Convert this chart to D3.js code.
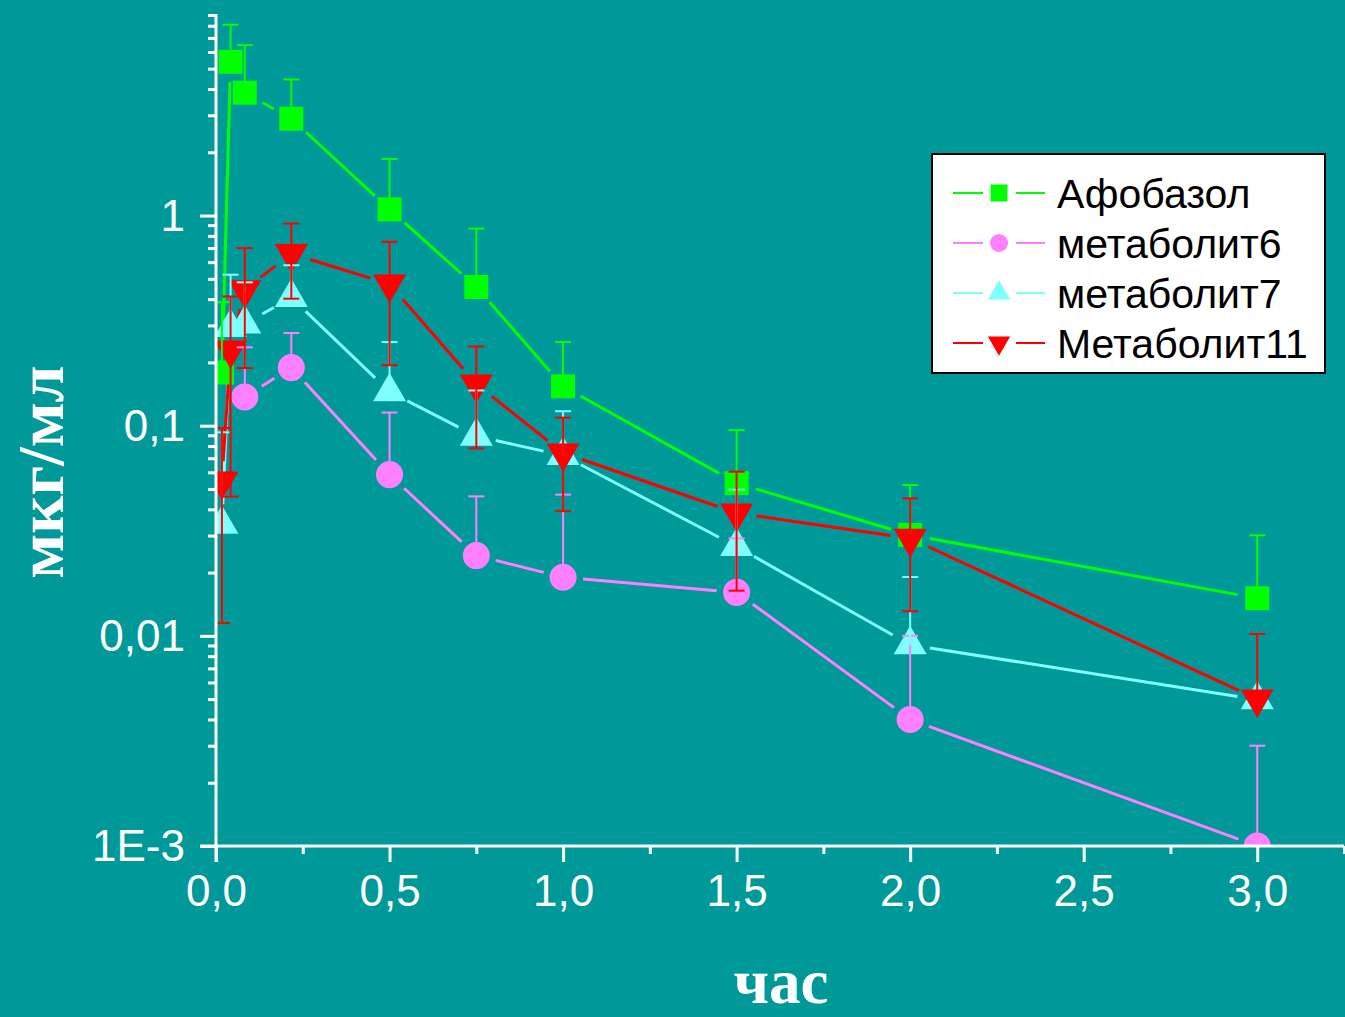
<!DOCTYPE html>
<html>
<head>
<meta charset="utf-8">
<script src="https://cdn.jsdelivr.net/npm/d3@7"></script>
<style>
  html, body { margin: 0; padding: 0; background: #009999; }
  svg { display: block; }
</style>
</head>
<body>
<svg width="1345" height="1017"></svg>
<script>
// time points, hours
const times = [0.017, 0.042, 0.083, 0.217, 0.5, 0.75, 1, 1.5, 2, 3];
const times6 = [0.083, 0.217, 0.5, 0.75, 1, 1.5, 2, 3];

const afobazol    = [0.179, 5.39, 3.84, 2.89, 1.07, 0.457, 0.154, 0.0533, 0.0302, 0.0151];
const afobazolErr = [0.208, 2.7, 2.63, 1.55, 0.79, 0.41, 0.096, 0.042, 0.022, 0.015];
const metab6      = [0.137, 0.189, 0.0585, 0.0241, 0.019, 0.0161, 0.004, 0.001];
const metab6Err   = [0.099, 0.087, 0.057, 0.022, 0.028, 0.013, 0.006, 0.002];
const metab7      = [0.034, 0.293, 0.305, 0.407, 0.145, 0.0891, 0.0722, 0.0266, 0.00906, 0.00497];
const metab7Err   = [0.059, 0.23, 0.176, 0.173, 0.105, 0.058, 0.045, 0.023, 0.01, 0];
const metab11     = [0.0545, 0.229, 0.444, 0.659, 0.472, 0.158, 0.0742, 0.0384, 0.0291, 0.00501];
const metab11Err  = [0.043, 0.183, 0.256, 0.257, 0.278, 0.08, 0.035, 0.022, 0.016, 0.0052];

const xMajor = [0, 0.5, 1, 1.5, 2, 2.5, 3];
const xMinor = [0.25, 0.75, 1.25, 1.75, 2.25, 2.75, 3.25];
const yMajor = [0.001, 0.01, 0.1, 1];

const series = [
  {name: 'Афобазол',    t: times,  v: afobazol, e: afobazolErr, both: false, color: '#00ff00', sym: 'square'},
  {name: 'метаболит6',  t: times6, v: metab6,   e: metab6Err,   both: false, color: '#ff80ff', sym: 'circle'},
  {name: 'метаболит7',  t: times,  v: metab7,   e: metab7Err,   both: false, color: '#80ffff', sym: 'up'},
  {name: 'Метаболит11', t: times,  v: metab11,  e: metab11Err,  both: true,  color: '#ff0000', sym: 'down'}
];

const svg = d3.select('svg');
const x = d3.scaleLinear().domain([0, 3.25]).range([216, 1344]);
const y = d3.scaleLog().domain([0.001, 9]).range([846, 15]);

const fmt = v => v >= 1 ? String(v) : (v === 0.001 ? '1E-3' : String(v).replace('.', ','));

function symbolPath(sym, size) {
  if (sym === 'square') return d3.symbol(d3.symbolSquare, size)();
  if (sym === 'circle') return d3.symbol(d3.symbolCircle, size)();
  return d3.symbol(d3.symbolTriangle, size)();
}
const bigSize = {square: 576, circle: 575, up: 470, down: 470};
const smallSize = {square: 289, circle: 255, up: 215, down: 215};

svg.append('defs').append('clipPath').attr('id', 'plot')
  .append('rect').attr('x', 216).attr('y', 15).attr('width', 1128).attr('height', 831);

const plot = svg.append('g').attr('clip-path', 'url(#plot)');

// lines with gaps round the markers
const gap = 20;
series.forEach(s => {
  const pts = s.t.map((t, i) => [x(t), y(s.v[i])]);
  for (let i = 0; i < pts.length - 1; i++) {
    const [x0, y0] = pts[i], [x1, y1] = pts[i + 1];
    const L = Math.hypot(x1 - x0, y1 - y0);
    if (L <= 2 * gap) continue;
    const ux = (x1 - x0) / L, uy = (y1 - y0) / L;
    plot.append('line')
      .attr('x1', x0 + ux * gap).attr('y1', y0 + uy * gap)
      .attr('x2', x1 - ux * gap).attr('y2', y1 - uy * gap)
      .attr('stroke', s.color).attr('stroke-width', 3);
  }
});

// markers
series.forEach(s => {
  plot.append('g').selectAll('path').data(s.t.map((t, i) => [t, s.v[i]])).join('path')
    .attr('d', symbolPath(s.sym, bigSize[s.sym]))
    .attr('transform', d => `translate(${x(d[0])},${y(d[1])})` + (s.sym === 'down' ? ' rotate(180)' : ''))
    .attr('fill', s.color);
});

// error bars on top
series.forEach(s => {
  const g = plot.append('g').attr('stroke', s.color).attr('stroke-width', 2);
  s.t.forEach((t, i) => {
    const e = s.e[i];
    if (!e) return;
    const cx = x(t), cy = y(s.v[i]);
    const hi = y(s.v[i] + e);
    g.append('line').attr('x1', cx).attr('x2', cx).attr('y1', cy).attr('y2', hi);
    g.append('line').attr('x1', cx - 8).attr('x2', cx + 8).attr('y1', hi).attr('y2', hi);
    if (s.both && s.v[i] - e > 0) {
      const lo = y(s.v[i] - e);
      g.append('line').attr('x1', cx).attr('x2', cx).attr('y1', cy).attr('y2', lo);
      g.append('line').attr('x1', cx - 8).attr('x2', cx + 8).attr('y1', lo).attr('y2', lo);
    }
  });
});

// axes
const yMinor = [];
[0.001, 0.01, 0.1, 1].forEach(d => { for (let k = 2; k <= 9; k++) yMinor.push(d * k); });

function styleAxis(g) {
  g.select('.domain').remove();
  g.selectAll('.tick line').attr('stroke', '#fff').attr('stroke-width', 3);
  g.selectAll('.tick text').attr('fill', '#fff')
    .style('font-family', '"Liberation Sans", Arial, sans-serif').style('font-size', '44px');
}

svg.append('g').attr('transform', 'translate(216,0)')
  .call(d3.axisLeft(y).tickValues(yMinor).tickSize(8).tickFormat(''))
  .call(styleAxis);
svg.append('g').attr('transform', 'translate(216,0)')
  .call(d3.axisLeft(y).tickValues(yMajor).tickSize(16).tickPadding(15).tickFormat(fmt))
  .call(styleAxis)
  .call(g => g.selectAll('.tick text').attr('dy', '0.34em'));

svg.append('g').attr('transform', 'translate(0,846)')
  .call(d3.axisBottom(x).tickValues(xMinor).tickSize(8).tickFormat(''))
  .call(styleAxis);
svg.append('g').attr('transform', 'translate(0,846)')
  .call(d3.axisBottom(x).tickValues(xMajor).tickSize(16).tickPadding(13)
    .tickFormat(d => d3.format('.1f')(d).replace('.', ',')))
  .call(styleAxis);

svg.append('line').attr('x1', 216).attr('x2', 216).attr('y1', 14).attr('y2', 862)
  .attr('stroke', '#fff').attr('stroke-width', 3);
svg.append('line').attr('x1', 200).attr('x2', 1344).attr('y1', 846).attr('y2', 846)
  .attr('stroke', '#fff').attr('stroke-width', 3);

// axis titles
svg.append('text').attr('transform', 'translate(63,472) rotate(-90)')
  .attr('text-anchor', 'middle').attr('fill', '#fff')
  .style('font-family', '"Liberation Serif", "Times New Roman", serif')
  .style('font-weight', 'bold').style('font-size', '66px')
  .text('мкг/мл');
svg.append('text').attr('x', 781).attr('y', 1003)
  .attr('text-anchor', 'middle').attr('fill', '#fff')
  .style('font-family', '"Liberation Serif", "Times New Roman", serif')
  .style('font-weight', 'bold').style('font-size', '63px')
  .text('час');

// legend
const leg = svg.append('g');
leg.append('rect').attr('x', 932).attr('y', 154).attr('width', 393).attr('height', 219)
  .attr('fill', '#fff').attr('stroke', '#000').attr('stroke-width', 2);
series.forEach((s, i) => {
  const ly = 193 + i * 50;
  const r = leg.append('g').attr('transform', `translate(0,${ly})`);
  r.append('line').attr('x1', 953).attr('x2', 983).attr('y1', 0).attr('y2', 0)
    .attr('stroke', s.color).attr('stroke-width', 2);
  r.append('line').attr('x1', 1016).attr('x2', 1045).attr('y1', 0).attr('y2', 0)
    .attr('stroke', s.color).attr('stroke-width', 2);
  r.append('path').attr('d', symbolPath(s.sym, smallSize[s.sym]))
    .attr('transform', 'translate(999,0)' + (s.sym === 'down' ? ' rotate(180)' : ''))
    .attr('fill', s.color);
  r.append('text').attr('x', 1057).attr('y', 0).attr('dy', '0.36em')
    .style('font-family', '"Liberation Sans", Arial, sans-serif').style('font-size', '41px')
    .attr('fill', '#000').text(s.name);
});
</script>
</body>
</html>
